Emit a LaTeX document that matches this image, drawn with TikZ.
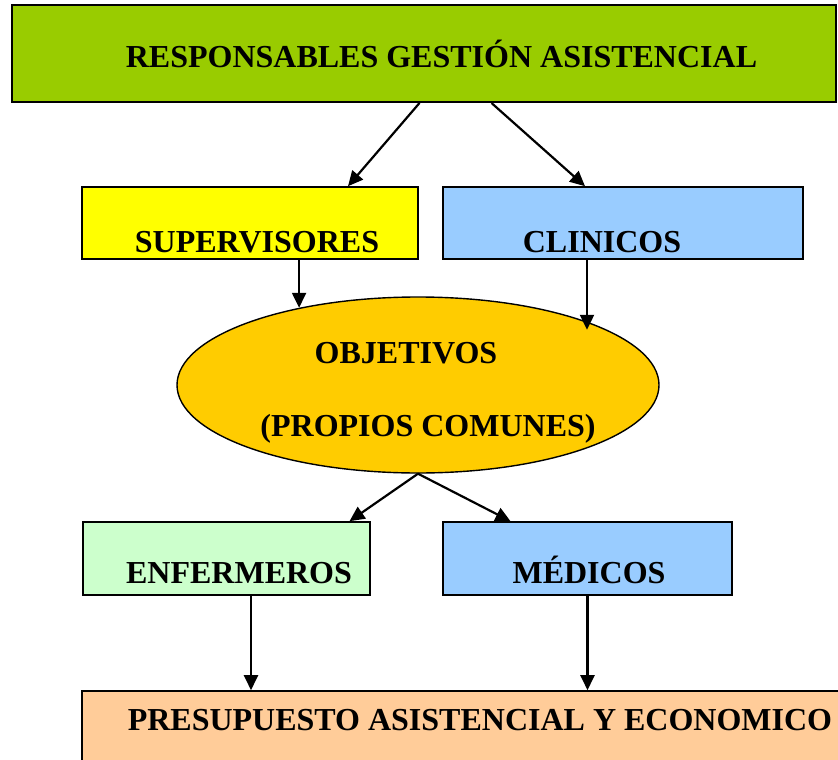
\documentclass[tikz,border=0pt]{standalone}
\usepackage{fontspec}
\setmainfont{Liberation Serif}
\definecolor{headgreen}{RGB}{153, 204, 0}
\definecolor{supyellow}{RGB}{255, 255, 0}
\definecolor{clinblue}{RGB}{153, 204, 255}
\definecolor{objorange}{RGB}{255, 204, 0}
\definecolor{enfgreen}{RGB}{204, 255, 204}
\definecolor{prespeach}{RGB}{255, 204, 153}
\usetikzlibrary{shapes.geometric, arrows.meta, calc}

\begin{document}
\begin{tikzpicture}[x=1pt, y=-1pt,
  box/.style={draw=black, line width=1.6pt, inner sep=0pt},
  lbl/.style={anchor=base, inner sep=0pt, font=\fontsize{32}{36}\selectfont\bfseries},
  arr/.style={line width=2.2pt, -{Triangle[length=15pt, width=14pt]}}]
  \useasboundingbox (0,0) rectangle (838,760);

  % Top
  \node[box, line width=2pt, fill=headgreen, minimum width=824pt, minimum height=97pt] (resp) at (424, 53.5) {};
  \node[lbl] (respT) at (441.5, 68) {RESPONSABLES GESTIÓN ASISTENCIAL};

  % Second row
  \node[box, fill=supyellow, minimum width=336pt, minimum height=72pt] (sup) at (250, 223) {};
  \node[lbl] (supT) at (257, 252) {SUPERVISORES};
  \node[box, fill=clinblue, minimum width=360pt, minimum height=72pt] (clin) at (623, 223) {};
  \node[lbl] (clinT) at (602, 252) {CLINICOS};

  % Objectives
  \node[ellipse, draw=black, line width=1.4pt, fill=objorange, minimum width=482pt, minimum height=176pt, inner sep=0pt] (obj) at (418, 385) {};
  \node[lbl] (objT) at (406, 363) {OBJETIVOS};
  \node[lbl] (objT2) at (428, 436) {(PROPIOS COMUNES)};

  % Third row
  \node[box, fill=enfgreen, minimum width=287pt, minimum height=73pt] (enf) at (226.5, 558.5) {};
  \node[lbl] (enfT) at (239, 583) {ENFERMEROS};
  \node[box, fill=clinblue, minimum width=289pt, minimum height=73pt] (med) at (587.5, 558.5) {};
  \node[lbl] (medT) at (589, 583) {MÉDICOS};

  % Bottom
  \node[box, fill=prespeach, minimum width=770pt, minimum height=100pt] (pres) at (467, 741) {};
  \node[lbl] (presT) at (480, 730) {PRESUPUESTO ASISTENCIAL Y ECONOMICO};

  % Arrows
  \draw[arr] ([xshift=-4.5pt]resp.south) -- ([xshift=98pt]sup.north);
  \draw[arr] ([xshift=67.5pt]resp.south) -- ([xshift=-38pt]clin.north);
  \draw[arr] (sup.south -| obj.147) -- (obj.147);
  \draw[arr] ([xshift=-36pt]clin.south) -- ($(clin.south)+(-36, 70)$);
  \draw[arr] (obj.south) -- ([xshift=123pt]enf.north);
  \draw[arr] (obj.south) -- ([xshift=-77pt]med.north);
  \draw[arr] ([xshift=24.5pt]enf.south) -- ([xshift=24.5pt]enf.south |- pres.north);
  \draw[arr] (med.south) -- (med.south |- pres.north);
\end{tikzpicture}
\end{document}
